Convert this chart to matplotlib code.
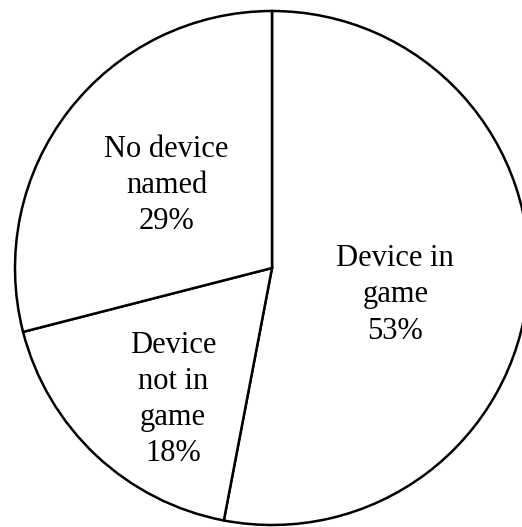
import matplotlib.pyplot as plt

# DATA
labels = ["Device in\ngame", "Device not in\ngame", "No device\nnamed"]
shares = [53, 18, 29]

plt.rcParams['font.family'] = ['Liberation Serif', 'DejaVu Serif']

fig = plt.figure(figsize=(5.22, 5.27), dpi=100)
# pie centre at (272, 268) px, radius 257 px; right side runs off the figure
ax = fig.add_axes([15 / 522, 2 / 527, 514 / 522, 514 / 527])

wedges, _ = ax.pie(shares, startangle=90, counterclock=False, radius=1,
                   colors=['white'] * len(shares),
                   wedgeprops=dict(edgecolor='black', linewidth=1.8))
for w in wedges:
    w.set_clip_on(False)

ax.text(0.48, -0.105, "Device in\ngame\n53%", ha='center', va='center',
        fontsize=22, linespacing=1.32)
ax.text(-0.385, -0.51, "Device\nnot in\ngame\n18%", ha='center', va='center',
        fontsize=22, linespacing=1.32)
ax.text(-0.41, 0.32, "No device\nnamed\n29%", ha='center', va='center',
        fontsize=22, linespacing=1.32)

ax.set_xlim(-1, 1)
ax.set_ylim(-1, 1)
ax.set_aspect('equal')
ax.axis('off')

fig.savefig('out.png', dpi=100, facecolor='white')
